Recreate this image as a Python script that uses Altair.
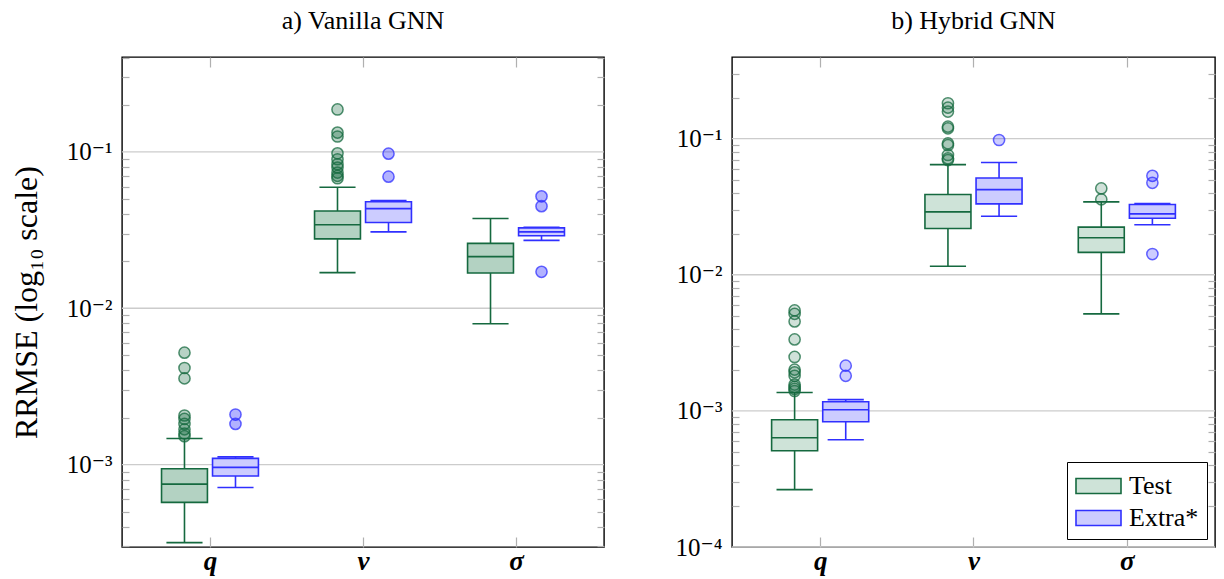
import altair as alt
import pandas as pd

VARS = ["q", "v", "σ"]
GROUPS = ["Test", "Extra*"]
PANEL_TITLES = ["a) Vanilla GNN", "b) Hybrid GNN"]

# box statistics per variable: [lower whisker, Q1, median, Q3, upper whisker]
VAN_TEST_Q = [3.17e-4, 5.73e-4, 7.5e-4, 9.4e-4, 1.47e-3]
VAN_TEST_V = [1.69e-2, 2.78e-2, 3.42e-2, 4.19e-2, 5.94e-2]
VAN_TEST_S = [7.96e-3, 1.68e-2, 2.14e-2, 2.6e-2, 3.75e-2]
VAN_EXTRA_Q = [7.13e-4, 8.46e-4, 9.6e-4, 1.096e-3, 1.12e-3]
VAN_EXTRA_V = [3.08e-2, 3.54e-2, 4.34e-2, 4.8e-2, 4.88e-2]
VAN_EXTRA_S = [2.72e-2, 2.91e-2, 3.08e-2, 3.27e-2, 3.3e-2]
HYB_TEST_Q = [2.64e-4, 5.09e-4, 6.35e-4, 8.6e-4, 1.365e-3]
HYB_TEST_V = [1.156e-2, 2.19e-2, 2.9e-2, 3.89e-2, 6.44e-2]
HYB_TEST_S = [5.16e-3, 1.46e-2, 1.87e-2, 2.24e-2, 3.43e-2]
HYB_EXTRA_Q = [6.14e-4, 8.32e-4, 1.02e-3, 1.167e-3, 1.21e-3]
HYB_EXTRA_V = [2.69e-2, 3.32e-2, 4.22e-2, 5.14e-2, 6.68e-2]
HYB_EXTRA_S = [2.33e-2, 2.6e-2, 2.8e-2, 3.28e-2, 3.34e-2]

# outliers
VAN_TEST_Q_OUT = [5.2e-3, 4.15e-3, 3.56e-3, 2.06e-3, 1.96e-3, 1.82e-3, 1.68e-3, 1.58e-3, 1.52e-3]
VAN_TEST_V_OUT = [0.187, 0.133, 0.1255, 0.098, 0.0898, 0.0834, 0.0795, 0.0738, 0.0703, 0.0679]
VAN_TEST_S_OUT = []
VAN_EXTRA_Q_OUT = [2.09e-3, 1.82e-3]
VAN_EXTRA_V_OUT = [0.0975, 0.0695]
VAN_EXTRA_S_OUT = [5.2e-2, 4.5e-2, 1.71e-2]
HYB_TEST_Q_OUT = [5.47e-3, 5.16e-3, 4.54e-3, 3.35e-3, 2.49e-3, 2.01e-3, 1.92e-3, 1.81e-3,
                  1.56e-3, 1.5e-3, 1.45e-3, 1.4e-3]
HYB_TEST_V_OUT = [0.182, 0.169, 0.158, 0.1225, 0.119, 0.0923, 0.0895, 0.0758, 0.0716, 0.0696]
HYB_TEST_S_OUT = [4.31e-2, 3.58e-2]
HYB_EXTRA_Q_OUT = [2.15e-3, 1.81e-3]
HYB_EXTRA_V_OUT = [0.0977]
HYB_EXTRA_S_OUT = [5.33e-2, 4.74e-2, 1.42e-2]

Y_DOMAINS = [[2.97e-4, 0.405], [1e-4, 0.398]]

BOXES = {
    (0, "Test"): [VAN_TEST_Q, VAN_TEST_V, VAN_TEST_S],
    (0, "Extra*"): [VAN_EXTRA_Q, VAN_EXTRA_V, VAN_EXTRA_S],
    (1, "Test"): [HYB_TEST_Q, HYB_TEST_V, HYB_TEST_S],
    (1, "Extra*"): [HYB_EXTRA_Q, HYB_EXTRA_V, HYB_EXTRA_S],
}
OUTS = {
    (0, "Test"): [VAN_TEST_Q_OUT, VAN_TEST_V_OUT, VAN_TEST_S_OUT],
    (0, "Extra*"): [VAN_EXTRA_Q_OUT, VAN_EXTRA_V_OUT, VAN_EXTRA_S_OUT],
    (1, "Test"): [HYB_TEST_Q_OUT, HYB_TEST_V_OUT, HYB_TEST_S_OUT],
    (1, "Extra*"): [HYB_EXTRA_Q_OUT, HYB_EXTRA_V_OUT, HYB_EXTRA_S_OUT],
}

GREEN = "#15693f"
BLUE = "#3030ff"
SERIF = "'Liberation Serif', 'Times New Roman', 'DejaVu Serif', serif"
OFFS = {"Test": -1 / 6, "Extra*": 1 / 6}

box_rows, out_rows = [], []
for (p, g), lists in BOXES.items():
    for i, st in enumerate(lists):
        box_rows.append(dict(panel=p, var=VARS[i], group=g, xc=i + 1 + OFFS[g],
                             lo=st[0], q1=st[1], med=st[2], q3=st[3], hi=st[4]))
for (p, g), lists in OUTS.items():
    for i, vals in enumerate(lists):
        for v in vals:
            out_rows.append(dict(panel=p, var=VARS[i], group=g, xc=i + 1 + OFFS[g], value=v))
box_df = pd.DataFrame(box_rows)
out_df = pd.DataFrame(out_rows)

SUP = "datum.value < 0.0005 ? '10⁻⁴' : datum.value < 0.005 ? '10⁻³' : datum.value < 0.05 ? '10⁻²' : '10⁻¹'"
XLAB = "datum.value == 1 ? 'q' : datum.value == 2 ? 'v' : 'σ'"
LEGLAB = ("datum.label == 'Test' ? '\u00a0\u00a0\u00a0' + datum.label + '\u00a0\u00a0\u00a0' "
          ": datum.label + '\u00a0\u00a0\u00a0'")


def make_panel(p):
    lo_d, hi_d = Y_DOMAINS[p]
    decades = [10.0 ** e for e in range(-6, 1) if lo_d <= 10.0 ** e <= hi_d]
    minor = [k * 10.0 ** e for e in range(-6, 1) for k in range(2, 10)
             if lo_d <= k * 10.0 ** e <= hi_d]
    ys = alt.Scale(type="log", domain=Y_DOMAINS[p], nice=False)
    xs = alt.Scale(domain=[0.425, 3.575], nice=False, zero=False)
    box_fill = ["#b3d2c2", "#cee3d8"][p]
    fill_range = [box_fill, "#ccccff"]
    pt_op = [0.3, 0.2][p]
    show_legend = p == 1
    leg = alt.Legend(orient="bottom-right", offset=8, title=None, labelExpr=LEGLAB) if show_legend else None

    stroke = alt.Stroke("group:N", scale=alt.Scale(domain=GROUPS, range=[GREEN, BLUE]), legend=leg)
    fill = alt.Fill("group:N", scale=alt.Scale(domain=GROUPS, range=fill_range), legend=leg)

    bdf = box_df[box_df.panel == p]
    odf = out_df[out_df.panel == p]

    grid = alt.Chart(pd.DataFrame({"d": decades})).mark_rule(color="#cccccc", strokeWidth=1.3).encode(
        y=alt.Y("d:Q", scale=ys, axis=alt.Axis(
            orient="left", values=decades, labelExpr=SUP, ticks=False, domain=False, grid=False,
            labelFont=SERIF, labelFontSize=25, labelColor="black", labelPadding=10,
            title="RRMSE (log₁₀ scale)" if p == 0 else None, titleFont=SERIF, titleFontSize=32,
            titleFontWeight="normal", titleColor="black", titlePadding=23)))

    base = alt.Chart(bdf).transform_calculate(
        bx0="datum.xc - 0.15", bx1="datum.xc + 0.15",
        cx0="datum.xc - 0.118", cx1="datum.xc + 0.118")

    minor_axis = dict(values=minor, offset=-7, tickSize=7, labels=False, domain=False, grid=False,
                      title=None, tickColor="#b0b0b0", tickWidth=1.2)

    wl = base.mark_rule(strokeWidth=1.6).encode(
        x=alt.X("xc:Q", scale=xs, axis=None),
        y=alt.Y("lo:Q", scale=ys, axis=alt.Axis(orient="left", **minor_axis)),
        y2="q1:Q", stroke=stroke)
    wh = base.mark_rule(strokeWidth=1.6).encode(
        x=alt.X("xc:Q", scale=xs, axis=None),
        y=alt.Y("q3:Q", scale=ys, axis=alt.Axis(orient="right", **minor_axis)),
        y2="hi:Q", stroke=stroke)
    cap_lo = base.mark_rule(strokeWidth=1.6).encode(
        x=alt.X("cx0:Q", scale=xs, axis=None), x2="cx1:Q",
        y=alt.Y("lo:Q", scale=ys, axis=None), stroke=stroke)
    cap_hi = base.mark_rule(strokeWidth=1.6).encode(
        x=alt.X("cx0:Q", scale=xs, axis=None), x2="cx1:Q",
        y=alt.Y("hi:Q", scale=ys, axis=None), stroke=stroke)
    box = base.mark_rect(strokeWidth=1.6).encode(
        x=alt.X("bx0:Q", scale=xs, axis=alt.Axis(
            orient="bottom", values=[1, 2, 3], labelExpr=XLAB, offset=-10, tickSize=10,
            tickColor="#b0b0b0", tickWidth=1.2, domain=False, grid=False, title=None,
            labelFont=SERIF, labelFontSize=27, labelFontStyle="italic", labelFontWeight="bold",
            labelColor="black", labelPadding=1)),
        x2="bx1:Q",
        y=alt.Y("q1:Q", scale=ys, axis=None), y2="q3:Q",
        fill=fill, stroke=stroke)
    med = base.mark_rule(strokeWidth=1.6).encode(
        x=alt.X("bx0:Q", scale=xs, axis=alt.Axis(
            orient="top", values=[1, 2, 3], offset=-10, tickSize=10, labels=False,
            tickColor="#b0b0b0", tickWidth=1.2, domain=False, grid=False, title=None)),
        x2="bx1:Q",
        y=alt.Y("med:Q", scale=ys, axis=None), stroke=stroke)
    pts = alt.Chart(odf).mark_point(filled=True, size=125, strokeWidth=1.5, fillOpacity=pt_op,
                                    strokeOpacity=0.75, opacity=1).encode(
        x=alt.X("xc:Q", scale=xs, axis=None),
        y=alt.Y("value:Q", scale=ys, axis=None),
        color=alt.Color("group:N", scale=alt.Scale(domain=GROUPS, range=[GREEN, "#0000ff"]), legend=None),
        stroke=stroke)

    layer = alt.layer(grid, wl, wh, cap_lo, cap_hi, box, med, pts).resolve_axis(
        x="independent", y="independent")
    return layer.properties(
        width=482 if p == 0 else 483, height=490,
        title=alt.TitleParams(PANEL_TITLES[p], font=SERIF, fontSize=26, fontWeight="normal",
                              color="black", offset=22))


chart = alt.HConcatChart(hconcat=[make_panel(0), make_panel(1)], spacing=128, bounds="flush").resolve_scale(
    fill="independent", stroke="independent", color="independent", x="independent", y="independent"
).resolve_legend(fill="independent", stroke="independent", color="independent").properties(
    padding={"left": 9, "top": 7, "right": 5, "bottom": 2}, background="white"
).configure_view(stroke="black", strokeWidth=1.4).configure_legend(
    strokeColor="black", fillColor="white", padding=8, labelFont=SERIF, labelFontSize=26,
    labelColor="black", symbolType="M-1,-0.5L2,-0.5L2,0.5L-1,0.5Z", symbolSize=900,
    symbolStrokeWidth=1.6, rowPadding=3, labelOffset=22, labelAlign="left", cornerRadius=0
)

chart.save("out.html", embed_options={"renderer": "svg", "actions": False})
